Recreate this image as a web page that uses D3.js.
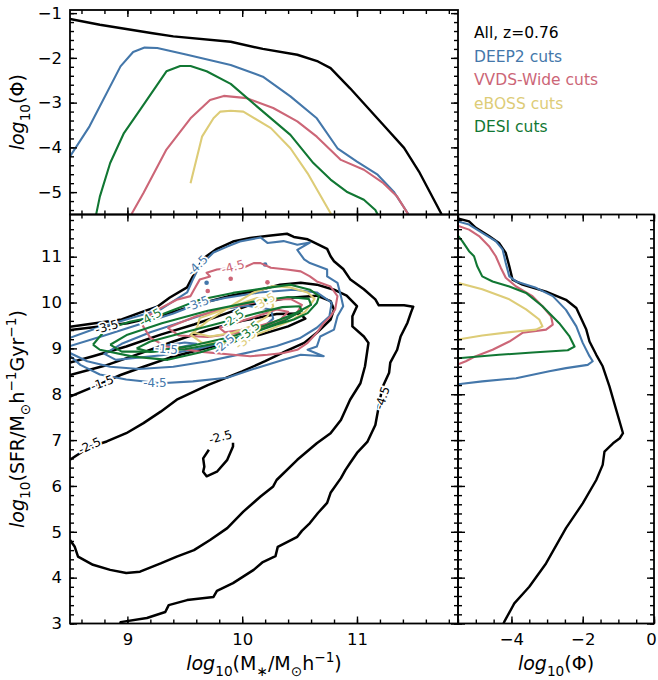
<!DOCTYPE html>
<html><head><meta charset="utf-8">
<script src="https://cdn.jsdelivr.net/npm/d3@7"></script>
<style>body{margin:0;background:#fff} svg{display:block} text{font-family:"DejaVu Sans",sans-serif}</style>
</head><body><svg id="c" width="658" height="680"></svg>
<script>
// ---------------- data ----------------
const seriesNames = ["All, z=0.76","DEEP2 cuts","VVDS-Wide cuts","eBOSS cuts","DESI cuts"];
const seriesColors = ["#000000","#4477AA","#CC6677","#DDCC77","#117733"];

const massDomain = [8.5, 11.88];
const sfrDomain = [3, 11.92];
const phiDomain = [-5.5, -0.93];
const phiDomainR = [-5.5, 0];
const massTicks = [9,10,11];
const sfrTicks = [3,4,5,6,7,8,9,10,11];
const phiTicks = [-5,-4,-3,-2,-1];
const phiTicksR = [-4,-2,0];

// top panel: stellar mass function [logM, logPhi]
const topAll = [[8.5,-1.13],[8.76,-1.26],[9.22,-1.45],[9.40,-1.52],[9.90,-1.64],[10.18,-1.80],[10.48,-1.93],[10.66,-2.08],[10.77,-2.23],[10.94,-2.68],[11.23,-3.50],[11.41,-4.01],[11.54,-4.54],[11.73,-5.46],[11.75,-5.6]];
const topDeep2 = [[8.5,-4.2],[8.67,-3.53],[8.94,-2.19],[9.05,-1.87],[9.15,-1.77],[9.26,-1.78],[9.52,-1.93],[9.90,-2.16],[10.18,-2.42],[10.42,-2.86],[10.65,-3.35],[10.83,-4.02],[11.00,-4.32],[11.18,-4.61],[11.32,-4.99],[11.44,-5.46],[11.46,-5.6]];
const topVvds = [[9.03,-5.6],[9.04,-5.47],[9.14,-5.02],[9.34,-4.05],[9.55,-3.35],[9.72,-2.94],[9.84,-2.85],[10.04,-2.90],[10.27,-3.12],[10.48,-3.42],[10.65,-3.76],[10.86,-4.28],[11.06,-4.50],[11.23,-4.80],[11.35,-5.10],[11.44,-5.47],[11.45,-5.6]];
const topEboss = [[9.55,-4.80],[9.65,-3.76],[9.75,-3.35],[9.81,-3.20],[9.90,-3.18],[10.01,-3.20],[10.25,-3.57],[10.42,-4.02],[10.57,-4.58],[10.77,-5.47],[10.79,-5.6]];
const topDesi = [[8.72,-5.6],[8.73,-5.47],[8.76,-5.10],[8.85,-4.35],[8.97,-3.68],[9.11,-3.16],[9.34,-2.30],[9.46,-2.18],[9.55,-2.18],[9.69,-2.30],[9.90,-2.58],[10.13,-3.09],[10.42,-3.72],[10.62,-4.35],[10.77,-4.72],[10.91,-4.99],[11.06,-5.17],[11.16,-5.40],[11.2,-5.6]];

// right panel: SFR function [logPhi, logSFR]
const rightAll = [[-5.6,11.85],[-5.19,11.77],[-5.0,11.63],[-4.63,11.45],[-4.35,11.30],[-4.16,11.08],[-4.06,10.79],[-3.97,10.50],[-3.69,10.39],[-3.03,10.24],[-2.47,10.06],[-2.18,9.88],[-1.90,9.41],[-1.81,9.15],[-1.62,8.86],[-1.44,8.61],[-1.25,8.17],[-1.06,7.66],[-0.87,7.15],[-0.96,7.04],[-1.15,6.93],[-1.39,6.75],[-1.44,6.46],[-1.62,6.13],[-2.0,5.62],[-2.47,5.08],[-3.03,4.31],[-3.5,3.80],[-3.92,3.44],[-4.2,3.04],[-4.25,2.95]];
const rightDeep2 = [[-5.6,11.79],[-5.19,11.70],[-4.82,11.52],[-4.44,11.34],[-4.25,11.16],[-4.16,10.86],[-4.06,10.57],[-3.87,10.46],[-3.31,10.32],[-2.84,10.14],[-2.47,9.84],[-2.18,9.48],[-2.0,9.12],[-1.81,8.83],[-1.72,8.72],[-1.86,8.64],[-2.47,8.57],[-2.94,8.50],[-3.87,8.35],[-4.82,8.28],[-5.6,8.21]];
const rightVvds = [[-5.6,11.70],[-5.19,11.59],[-4.91,11.45],[-4.63,11.23],[-4.44,11.01],[-4.30,10.76],[-4.16,10.54],[-3.87,10.35],[-3.41,10.14],[-3.13,9.92],[-2.89,9.70],[-2.84,9.52],[-3.03,9.41],[-3.69,9.34],[-4.06,9.15],[-4.53,8.97],[-5.0,8.83],[-5.28,8.72],[-5.6,8.62]];
const rightEboss = [[-5.6,10.45],[-4.82,10.29],[-4.06,10.07],[-3.59,9.85],[-3.22,9.63],[-3.13,9.48],[-3.31,9.41],[-3.87,9.37],[-4.82,9.28],[-5.6,9.18]];
const rightDesi = [[-5.6,11.56],[-5.38,11.34],[-5.19,11.12],[-5.05,11.01],[-4.96,10.79],[-4.82,10.57],[-4.53,10.46],[-4.06,10.35],[-3.59,10.21],[-3.13,9.92],[-2.66,9.55],[-2.37,9.26],[-2.23,9.04],[-2.42,8.96],[-3.41,8.91],[-4.35,8.86],[-5.6,8.78]];

// main panel contours [logM, logSFR]
const allL45 = [[8.94,2.9],[8.94,3.03],[9.17,3.12],[9.33,3.25],[9.36,3.40],[9.52,3.51],[9.75,3.58],[9.78,3.71],[9.92,3.88],[10.10,4.17],[10.18,4.34],[10.29,4.47],[10.31,4.67],[10.48,4.89],[10.52,5.02],[10.59,5.19],[10.66,5.41],[10.74,5.63],[10.77,5.85],[10.86,6.17],[10.90,6.35],[10.94,6.50],[11.00,6.72],[11.09,6.96],[11.16,7.33],[11.18,7.60],[11.22,8.14],[11.28,8.47],[11.29,8.69],[11.35,8.97],[11.38,9.26],[11.44,9.56],[11.47,9.78],[11.49,9.91],[11.41,9.94],[11.19,9.94],[11.16,10.07],[11.06,10.29],[10.94,10.51],[10.88,10.73],[10.80,10.90],[10.77,11.01],[10.74,11.17],[10.62,11.32],[10.57,11.38],[10.45,11.43],[10.39,11.50],[10.25,11.46],[10.07,11.41],[9.92,11.33],[9.78,11.17],[9.66,10.96],[9.57,10.57],[9.52,10.33],[9.37,10.11],[9.26,9.91],[9.11,9.78],[8.95,9.63],[8.5,9.47]];
const allL35 = [[8.5,4.82],[8.54,4.68],[8.57,4.46],[8.70,4.28],[8.85,4.17],[8.99,4.10],[9.11,4.13],[9.29,4.31],[9.43,4.46],[9.58,4.60],[9.72,4.82],[9.87,5.08],[10.01,5.44],[10.16,5.77],[10.27,5.99],[10.30,6.13],[10.48,6.57],[10.65,6.93],[10.77,7.15],[10.86,7.44],[10.94,7.88],[11.03,8.24],[11.07,8.61],[11.10,9.12],[11.06,9.26],[10.96,9.48],[10.96,9.70],[11.00,9.92],[10.91,10.15],[10.80,10.28],[10.65,10.39],[10.51,10.43],[10.33,10.39],[10.16,10.28],[9.9,10.15],[9.6,9.95],[9.3,9.72],[9.0,9.55],[8.5,9.40]];
const allL25 = [[8.5,6.57],[8.67,6.85],[8.82,6.97],[8.99,7.15],[9.14,7.37],[9.29,7.62],[9.43,7.88],[9.7,8.2],[10.0,8.5],[10.2,8.72],[10.39,8.95],[10.54,9.12],[10.65,9.34],[10.77,9.63],[10.80,9.85],[10.77,10.03],[10.65,10.15],[10.39,10.10],[10.07,9.95],[9.87,9.77],[9.58,9.52],[9.29,9.30],[8.99,9.04],[8.70,8.83],[8.5,8.69]];
const allL25b = [[9.71,6.79],[9.66,6.60],[9.67,6.42],[9.66,6.31],[9.69,6.21],[9.78,6.31],[9.87,6.57],[9.92,6.86],[9.92,6.94]];
const allL15 = [[8.5,7.95],[8.74,8.2],[8.94,8.42],[9.14,8.6],[9.37,8.8],[9.63,8.97],[9.87,9.12],[10.16,9.3],[10.4,9.48],[10.55,9.65],[10.5,9.76],[10.3,9.75],[10.0,9.6],[9.7,9.4],[9.4,9.15],[9.1,8.88],[8.8,8.62],[8.5,8.42]];
const deepL45 = [[8.5,9.23],[8.70,9.41],[8.99,9.63],[9.29,9.85],[9.52,10.22],[9.57,10.50],[9.63,10.80],[9.75,11.09],[9.87,11.22],[9.98,11.33],[10.16,11.42],[10.22,11.30],[10.36,11.34],[10.48,11.26],[10.59,11.31],[10.48,11.15],[10.54,10.94],[10.59,10.86],[10.74,10.72],[10.74,10.57],[10.83,10.43],[10.86,10.14],[10.88,9.92],[10.83,9.70],[10.80,9.41],[10.68,9.26],[10.65,9.04],[10.57,8.97],[10.71,8.83],[10.51,8.86],[10.36,8.75],[10.07,8.53],[9.87,8.36],[9.57,8.28],[9.29,8.24],[8.99,8.32],[8.76,8.43],[8.59,8.64],[8.5,8.84]];
const deepL35 = [[8.5,9.05],[8.8,9.28],[9.1,9.52],[9.4,9.76],[9.61,9.97],[9.85,10.1],[10.15,10.22],[10.45,10.28],[10.65,10.22],[10.78,10.0],[10.76,9.7],[10.65,9.45],[10.5,9.22],[10.3,9.05],[10.0,8.88],[9.7,8.72],[9.4,8.6],[9.1,8.55],[8.85,8.6],[8.65,8.72],[8.5,8.9]];
const deepL25 = [[10.25,9.85],[10.04,9.93],[9.8,9.85],[9.5,9.6],[9.2,9.35],[8.95,9.1],[8.8,8.88],[8.9,8.75],[9.3,8.85],[9.63,9.0],[9.92,9.19],[10.16,9.41],[10.27,9.65],[10.25,9.85]];
const deepL15 = [[9.25,8.95],[9.45,9.02],[9.6,9.1],[9.5,9.13],[9.3,9.05],[9.25,8.95]];
const vvdsL45 = [[9.12,9.55],[9.14,9.63],[9.26,9.84],[9.43,10.06],[9.55,10.14],[9.58,10.28],[9.63,10.50],[9.72,10.57],[9.69,10.65],[9.78,10.72],[9.92,10.76],[10.01,10.76],[10.10,10.86],[10.16,10.86],[10.25,10.76],[10.39,10.72],[10.51,10.68],[10.59,10.57],[10.65,10.46],[10.77,10.35],[10.83,10.14],[10.81,9.85],[10.77,9.70],[10.71,9.55],[10.65,9.34],[10.57,9.12],[10.48,8.97],[10.36,8.90],[10.22,8.86],[10.07,8.83],[9.92,8.86],[9.63,8.93],[9.34,9.04],[9.20,9.23],[9.12,9.55]];
const vvdsL35 = [[9.35,9.45],[9.6,9.7],[9.9,9.9],[10.2,10.05],[10.42,10.08],[10.52,9.95],[10.47,9.75],[10.3,9.55],[10.0,9.35],[9.7,9.25],[9.45,9.28],[9.35,9.45]];
const vvdsL25 = [[9.8,9.45],[10.1,9.68],[10.3,9.85],[10.4,9.8],[10.33,9.62],[10.05,9.42],[9.85,9.35],[9.8,9.45]];
const ebossL45 = [[9.55,9.3],[9.7,9.6],[9.95,10.0],[10.1,10.22],[10.27,10.36],[10.42,10.33],[10.57,10.22],[10.63,10.08],[10.55,9.8],[10.42,9.6],[10.25,9.42],[10.07,9.25],[9.85,9.12],[9.65,9.12],[9.55,9.3]];
const ebossL35 = [[9.61,9.48],[9.63,9.66],[9.92,9.92],[10.13,10.10],[10.25,10.07],[10.27,9.92],[10.22,9.70],[10.07,9.48],[9.92,9.34],[9.72,9.26],[9.58,9.34],[9.61,9.48]];
const desiL45 = [[8.70,9.08],[8.81,9.41],[9.02,9.58],[9.26,9.70],[9.63,10.06],[9.92,10.21],[10.22,10.32],[10.42,10.39],[10.59,10.28],[10.67,10.14],[10.65,9.99],[10.57,9.77],[10.45,9.63],[10.30,9.52],[10.16,9.40],[9.92,9.13],[9.63,8.91],[9.35,8.75],[9.05,8.82],[8.76,8.97],[8.70,9.08]];
const desiL35 = [[8.85,9.08],[9.0,9.3],[9.3,9.55],[9.7,9.82],[10.1,10.02],[10.4,10.12],[10.58,10.08],[10.6,9.95],[10.45,9.75],[10.2,9.5],[9.9,9.25],[9.55,9.05],[9.2,8.93],[8.95,8.93],[8.85,9.08]];
const desiL25 = [[9.08,9.0],[9.2,9.15],[9.5,9.35],[9.8,9.55],[10.1,9.75],[10.35,9.9],[10.5,9.92],[10.52,9.82],[10.38,9.62],[10.1,9.35],[9.8,9.12],[9.5,8.98],[9.2,8.92],[9.08,9.0]];

// isolated contour specks [logM, logSFR, seriesIndex]
const specks = [[9.40,9.02,0],[9.69,10.43,1],[10.20,10.83,1],[9.90,10.52,2],[9.70,10.25,2],[10.22,10.44,2]];

// contour labels [text, logM, logSFR, angle, seriesIndex]
const contourLabels = [
  ["-3.5",8.82,9.47,-15,0],["-1.5",8.78,8.25,-20,0],["-2.5",8.67,6.88,-25,0],["-2.5",9.81,7.07,-15,0],["-4.5",11.22,7.92,-72,0],
  ["-4.5",9.61,10.81,-45,1],["-3.5",9.61,9.98,-20,1],["-1.5",9.34,8.99,5,1],["-4.5",9.24,8.24,0,1],["-2.5",9.84,9.1,-40,1],
  ["-4.5",9.92,10.78,-15,2],
  ["-3.5",10.19,10.02,-30,3],["-3.5",10.03,9.2,-40,3],
  ["-4.5",9.2,9.68,-30,4],["-2.5",9.92,9.65,-35,4],["-3.5",10.06,9.38,-40,4]
];

// ---------------- drawing ----------------
const svg = d3.select("#c");
const L=70, R=458, RR=654, T=10, MID=214.5, B=623.5;

const xM = d3.scaleLinear().domain(massDomain).range([L,R]);
const yM = d3.scaleLinear().domain(sfrDomain).range([B,MID]);
const yT = d3.scaleLinear().domain(phiDomain).range([MID,T]);
const xR = d3.scaleLinear().domain(phiDomainR).range([R,RR]);

const defs = svg.append("defs");
[["clipT",L,T,R-L,MID-T],["clipM",L,MID,R-L,B-MID],["clipR",R,MID,RR-R,B-MID]].forEach(c=>{
  defs.append("clipPath").attr("id",c[0]).append("rect").attr("x",c[1]).attr("y",c[2]).attr("width",c[3]).attr("height",c[4]);
});

// top panel lines
const gT = svg.append("g").attr("clip-path","url(#clipT)");
const lineT = d3.line().x(d=>xM(d[0])).y(d=>yT(d[1]));
[topAll,topDeep2,topVvds,topEboss,topDesi].forEach((s,i)=>{
  gT.append("path").attr("d",lineT(s)).attr("fill","none").attr("stroke",seriesColors[i])
    .attr("stroke-width",i===0?2.4:2.1).attr("stroke-linejoin","round");
});

// right panel lines
const gR = svg.append("g").attr("clip-path","url(#clipR)");
const lineR = d3.line().x(d=>xR(d[0])).y(d=>yM(d[1]));
[rightAll,rightDeep2,rightVvds,rightEboss,rightDesi].forEach((s,i)=>{
  gR.append("path").attr("d",lineR(s)).attr("fill","none").attr("stroke",seriesColors[i])
    .attr("stroke-width",i===0?2.4:2.1).attr("stroke-linejoin","round");
});

// main contours
const gM = svg.append("g").attr("clip-path","url(#clipM)");
const lineM = d3.line().x(d=>xM(d[0])).y(d=>yM(d[1]));
const contourSets = [
  [allL45,allL35,allL25,allL25b,allL15],
  [deepL45,deepL35,deepL25,deepL15],
  [vvdsL45,vvdsL35,vvdsL25],
  [ebossL45,ebossL35],
  [desiL45,desiL35,desiL25]
];
contourSets.forEach((set,i)=>{
  set.forEach(c=>{
    gM.append("path").attr("d",lineM(c)).attr("fill","none").attr("stroke",seriesColors[i])
      .attr("stroke-width",i===0?2.5:2.1).attr("stroke-linejoin","round");
  });
  specks.filter(s=>s[2]===i).forEach(s=>{
    gM.append("circle").attr("cx",xM(s[0])).attr("cy",yM(s[1])).attr("r",2.3).attr("fill",seriesColors[i]);
  });
});
contourLabels.forEach(l=>{
  gM.append("text").attr("transform",`translate(${xM(l[1])},${yM(l[2])}) rotate(${l[3]})`)
    .attr("text-anchor","middle").attr("dy","0.35em").attr("font-size",12)
    .attr("fill",seriesColors[l[4]]).attr("stroke","#fff").attr("stroke-width",3.5)
    .attr("paint-order","stroke").text(l[0]);
});

// axes
const fmt = d3.format("d");
function addAxis(gen, tx, ty){
  const g = svg.append("g").attr("transform",`translate(${tx},${ty})`).call(gen);
  g.select(".domain").remove();
  g.selectAll(".tick line").attr("stroke","#000").attr("stroke-width",1.4);
  g.selectAll(".tick text").attr("font-size",16.5).attr("font-family","DejaVu Sans").attr("fill","#000");
  return g;
}
const minorMass = d3.range(8.6,11.881,0.2);
const minorSfr = d3.range(3,11.92,0.2);
const minorPhi = d3.range(-5.4,-0.93,0.2);
const minorPhiR = d3.range(-5.5,0.01,0.5);
const MAJ=-7, MIN=-4;
// main
addAxis(d3.axisBottom(xM).tickValues(massTicks).tickSize(MAJ).tickPadding(10).tickFormat(fmt), 0, B);
addAxis(d3.axisBottom(xM).tickValues(minorMass).tickSize(MIN).tickFormat(""), 0, B);
addAxis(d3.axisTop(xM).tickValues(massTicks).tickSize(MAJ).tickFormat(""), 0, MID);
addAxis(d3.axisTop(xM).tickValues(minorMass).tickSize(MIN).tickFormat(""), 0, MID);
addAxis(d3.axisLeft(yM).tickValues(sfrTicks).tickSize(MAJ).tickPadding(8).tickFormat(fmt), L, 0);
addAxis(d3.axisLeft(yM).tickValues(minorSfr).tickSize(MIN).tickFormat(""), L, 0);
addAxis(d3.axisRight(yM).tickValues(sfrTicks).tickSize(MAJ).tickFormat(""), R, 0);
addAxis(d3.axisRight(yM).tickValues(minorSfr).tickSize(MIN).tickFormat(""), R, 0);
// top
addAxis(d3.axisBottom(xM).tickValues(massTicks).tickSize(MAJ).tickFormat(""), 0, MID);
addAxis(d3.axisBottom(xM).tickValues(minorMass).tickSize(MIN).tickFormat(""), 0, MID);
addAxis(d3.axisTop(xM).tickValues(massTicks).tickSize(MAJ).tickFormat(""), 0, T);
addAxis(d3.axisTop(xM).tickValues(minorMass).tickSize(MIN).tickFormat(""), 0, T);
addAxis(d3.axisLeft(yT).tickValues(phiTicks).tickSize(MAJ).tickPadding(8).tickFormat(fmt), L, 0);
addAxis(d3.axisLeft(yT).tickValues(minorPhi).tickSize(MIN).tickFormat(""), L, 0);
addAxis(d3.axisRight(yT).tickValues(phiTicks).tickSize(MAJ).tickFormat(""), R, 0);
addAxis(d3.axisRight(yT).tickValues(minorPhi).tickSize(MIN).tickFormat(""), R, 0);
// right
const gRB = addAxis(d3.axisBottom(xR).tickValues(phiTicksR).tickSize(MAJ).tickPadding(10).tickFormat(fmt), 0, B);
gRB.selectAll(".tick text").filter(d=>d===0).attr("dx",-3);
addAxis(d3.axisBottom(xR).tickValues(minorPhiR).tickSize(MIN).tickFormat(""), 0, B);
addAxis(d3.axisTop(xR).tickValues(phiTicksR).tickSize(MAJ).tickFormat(""), 0, MID);
addAxis(d3.axisTop(xR).tickValues(minorPhiR).tickSize(MIN).tickFormat(""), 0, MID);
addAxis(d3.axisLeft(yM).tickValues(sfrTicks).tickSize(MAJ).tickFormat(""), R, 0);
addAxis(d3.axisLeft(yM).tickValues(minorSfr).tickSize(MIN).tickFormat(""), R, 0);
addAxis(d3.axisRight(yM).tickValues(sfrTicks).tickSize(MAJ).tickFormat(""), RR, 0);
addAxis(d3.axisRight(yM).tickValues(minorSfr).tickSize(MIN).tickFormat(""), RR, 0);

// frames
[[L,T,R-L,MID-T],[L,MID,R-L,B-MID],[R,MID,RR-R,B-MID]].forEach(f=>{
  svg.append("rect").attr("x",f[0]).attr("y",f[1]).attr("width",f[2]).attr("height",f[3])
    .attr("fill","none").attr("stroke","#000").attr("stroke-width",1.8);
});

// legend text
seriesNames.forEach((n,i)=>{
  svg.append("text").attr("x",474).attr("y",38+i*23.5).attr("font-size",15.5)
    .attr("fill",seriesColors[i]).text(n);
});

// axis labels
function mathText(sel, parts, fs){
  let cur=0;
  parts.forEach(p=>{
    const target = p.sub ? 0.3*fs : (p.sup ? -0.42*fs : 0);
    const ts = sel.append("tspan").text(p.t).attr("dy", target-cur);
    cur = target;
    if(p.sub||p.sup) ts.attr("font-size", fs*0.72);
    if(p.it) ts.attr("font-style","italic");
  });
}
const FS=19;
const labTop = [{t:"log",it:1},{t:"10",sub:1},{t:"(Φ)"}];
const labSfr = [{t:"log",it:1},{t:"10",sub:1},{t:"(SFR/M"},{t:"⊙",sub:1},{t:"h"},{t:"−1",sup:1},{t:"Gyr"},{t:"−1",sup:1},{t:")"}];
const labMass = [{t:"log",it:1},{t:"10",sub:1},{t:"(M"},{t:"∗",sub:1},{t:"/M"},{t:"⊙",sub:1},{t:"h"},{t:"−1",sup:1},{t:")"}];
mathText(svg.append("text").attr("transform",`translate(24,${(T+MID)/2}) rotate(-90)`).attr("text-anchor","middle").attr("font-size",FS), labTop, FS);
mathText(svg.append("text").attr("transform",`translate(24,${(MID+B)/2}) rotate(-90)`).attr("text-anchor","middle").attr("font-size",FS), labSfr, FS);
mathText(svg.append("text").attr("x",(L+R)/2).attr("y",670).attr("text-anchor","middle").attr("font-size",FS), labMass, FS);
mathText(svg.append("text").attr("x",(R+RR)/2).attr("y",670).attr("text-anchor","middle").attr("font-size",FS), labTop, FS);
</script></body></html>
